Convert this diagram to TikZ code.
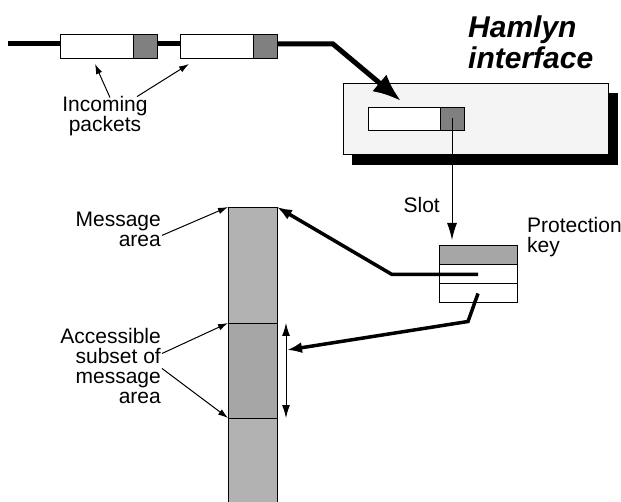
\documentclass[tikz,border=0pt]{standalone}
\usepackage{fontspec}
\setmainfont{Liberation Sans}
\usetikzlibrary{arrows.meta,positioning,shadows}
\definecolor{HlHeader}{RGB}{128,128,128}
\definecolor{HlPanel}{RGB}{244,244,244}
\definecolor{HlArea}{RGB}{178,178,178}
\definecolor{HlSubset}{RGB}{166,166,166}
\tikzset{
  hl/body/.style={
    draw,
    line width=0.9pt,
    fill=white,
    minimum width=73pt,
    minimum height=24pt,
    inner sep=0pt,
    outer sep=0pt
  },
  hl/header/.style={
    draw,
    line width=0.9pt,
    fill=HlHeader,
    minimum width=24pt,
    minimum height=24pt,
    inner sep=0pt,
    outer sep=0pt
  },
  hl/panel/.style={
    draw,
    line width=0.9pt,
    fill=HlPanel,
    minimum width=265pt,
    minimum height=71pt,
    inner sep=0pt,
    outer sep=0pt,
    copy shadow={shadow xshift=9pt, shadow yshift=-10pt, fill=black, draw=black}
  },
  hl/keyrow/.style={
    draw,
    line width=1pt,
    fill=white,
    minimum width=78pt,
    minimum height=19pt,
    inner sep=0pt,
    outer sep=0pt
  },
  hl/area/.style={
    draw,
    line width=0.9pt,
    fill=HlArea,
    minimum width=49pt,
    inner sep=0pt,
    outer sep=0pt
  },
  hl/label/.style={font=\fontsize{21}{20}\selectfont, inner sep=0pt},
  hl/title/.style={font=\fontsize{30}{31}\selectfont\bfseries\itshape, align=left, inner sep=0pt},
  hl/bigarrow/.style={-{Latex[length=28pt,width=22pt]}, line width=5pt},
  hl/arrow/.style={-{Latex[length=15pt,width=11pt]}, line width=3.5pt},
  hl/thin/.style={-{Latex[length=10pt,width=6.5pt]}, line width=1pt},
  hl/slot/.style={-{Latex[length=17pt,width=10pt]}, line width=1pt},
  hl/span/.style={{Latex[length=13pt,width=8pt]}-{Latex[length=13pt,width=8pt]}, line width=1pt}
}

\begin{document}
\begin{tikzpicture}[x=1pt,y=-1pt]
  \useasboundingbox (0,0) rectangle (621,502);
  % incoming packets on the wire
  \node[hl/body] (p1) at (96.5,46) {};
  \node[hl/header, anchor=west] (h1) at (p1.east) {};
  \node[hl/body] (p2) at (216.5,46) {};
  \node[hl/header, anchor=west] (h2) at (p2.east) {};
  \coordinate (wstart) at (8,44);
  \coordinate (bend) at (333,44);
  \draw[line width=5pt] (wstart) -- (wstart -| p1.west);
  \draw[line width=5pt] (h1.east |- wstart) -- (p2.west |- wstart);
  \node[hl/label, align=center, anchor=base] (inc) at (105,132) {Incoming\\packets};
  \draw[hl/thin] ([shift={(5,1)}]inc.north) -- ([shift={(-1.5,6)}]p1.south);
  \draw[hl/thin] ([shift={(32,0)}]inc.north) -- ([shift={(9,6)}]p2.south west);
  % interface
  \node[hl/title, anchor=base west] (title) at (468,69) {Hamlyn\\interface};
  \node[hl/panel] (ifc) at (475.5,118.5) {};
  \node[hl/body, minimum width=72pt, minimum height=23pt] (s1) at (404,118.5) {};
  \node[hl/header, minimum height=23pt, anchor=west] (s2) at (s1.east) {};
  \coordinate (tip) at (401,101);
  \draw[hl/bigarrow] (h2.east |- wstart) -- (bend) -- (tip);
  % protection key
  \node[hl/keyrow, fill=HlSubset] (k1) at (478,255.5) {};
  \node[hl/keyrow, anchor=north] (k2) at (k1.south) {};
  \node[hl/keyrow, anchor=north] (k3) at (k2.south) {};
  \draw[hl/slot, shorten >=6pt] (s2.center) -- (s2.center |- k1.north);
  \node[hl/label, anchor=base east] (slot) at (440,213) {Slot};
  \node[hl/label, align=left, anchor=base west] (pkey) at (527,253) {Protection\\key};
  % message area
  \node[hl/area, minimum height=116pt] (c1) at (252.5,265) {};
  \node[hl/area, fill=HlSubset, minimum height=95pt] (c2) at (252.5,370.5) {};
  \node[hl/area, minimum height=86pt] (c3) at (252.5,461) {};
  \node[hl/label, align=right, anchor=base east] (ma) at (161,247) {Message\\area};
  \node[hl/label, align=right, anchor=base east] (as) at (161,403) {Accessible\\subset of\\message\\area};
  \draw[hl/thin] ([shift={(1,5.5)}]ma.east) -- (c1.north west);
  \draw[hl/thin] ([shift={(1,-12)}]as.east) -- (c2.north west);
  \draw[hl/thin] ([shift={(1,3)}]as.east) -- (c2.south west);
  \draw[hl/span] ([xshift=9pt]c2.north east) -- ([xshift=9pt]c2.south east);
  \coordinate (rhit) at (287,350);
  \draw[hl/arrow] (k2.center) -- ++(-86,0) -- (c1.north east);
  \draw[hl/arrow] (k3.center) -- ++(-10,28) -- (rhit);
\end{tikzpicture}
\end{document}
